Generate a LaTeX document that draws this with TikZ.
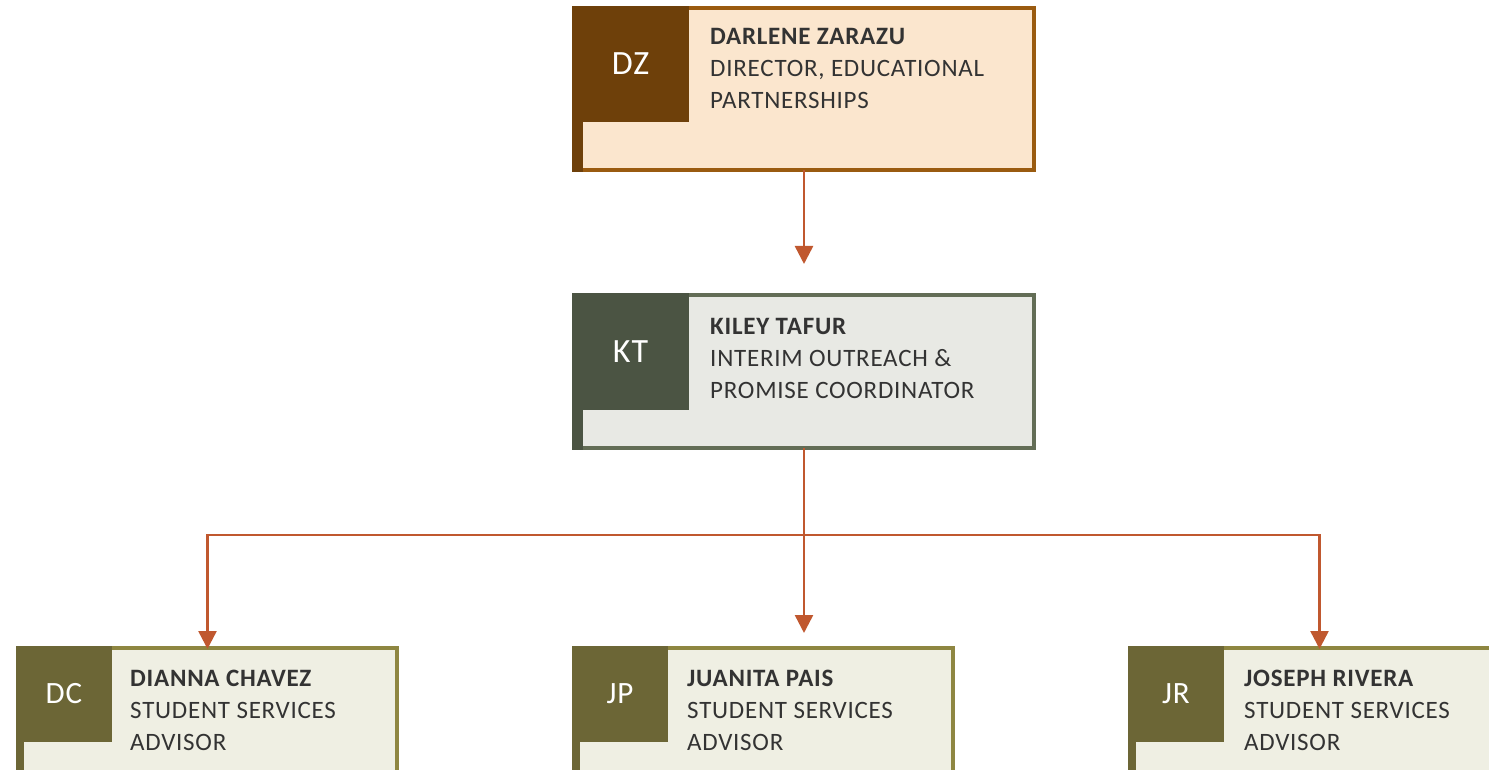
\documentclass[tikz,border=0pt]{standalone}
\usepackage{fontspec}
\setmainfont{Carlito}[LetterSpace=3]
\usetikzlibrary{arrows.meta}
\definecolor{arrc}{HTML}{C0582F}
\definecolor{txt}{HTML}{333333}
\definecolor{topfill}{HTML}{FBE6CE}
\definecolor{topdraw}{HTML}{9A5B10}
\definecolor{topsq}{HTML}{6E400A}
\definecolor{midfill}{HTML}{E8E9E4}
\definecolor{middraw}{HTML}{636D56}
\definecolor{midsq}{HTML}{4B5443}
\definecolor{botfill}{HTML}{EFEFE3}
\definecolor{botdraw}{HTML}{8E8641}
\definecolor{botsq}{HTML}{6C6636}
\tikzset{
  box/.style={rectangle, line width=4pt, inner sep=0pt, outer sep=0pt},
  sqbox/.style={rectangle, inner sep=0pt, outer sep=0pt, anchor=north west, text=white},
  nm/.style={anchor=base west, inner sep=0pt, text=txt, font=\fontsize{25}{30}\selectfont\bfseries},
  ln/.style={anchor=base west, inner sep=0pt, text=txt, font=\fontsize{25}{30}\selectfont},
  arr/.style={draw=arrc, line width=2.5pt, -{Triangle[length=18pt,width=18pt]}},
}
\begin{document}
\begin{tikzpicture}[x=1pt,y=1pt]
\useasboundingbox (0,0) rectangle (1489,-770);
\begin{scope}
\clip (0,0) rectangle (1489,-770);
% top box
\node[box, draw=topdraw, fill=topfill, minimum width=460pt, minimum height=162pt] (dz) at (804,-89) {};
\fill[topsq] (572,-6) rectangle (583,-172);
\node[sqbox, fill=topsq, minimum width=117pt, minimum height=116pt, font=\fontsize{34}{40}\selectfont] (dzi) at (572,-6) {DZ};
\node[nm] (dzn) at (710,-45) {DARLENE ZARAZU};
\node[ln] (dzt1) at (710,-77) {DIRECTOR, EDUCATIONAL};
\node[ln] (dzt2) at (710,-109) {PARTNERSHIPS};
% middle box
\node[box, draw=middraw, fill=midfill, minimum width=460pt, minimum height=153pt] (kt) at (804,-371.5) {};
\fill[midsq] (572,-293) rectangle (583,-450);
\node[sqbox, fill=midsq, minimum width=117pt, minimum height=117pt, font=\fontsize{34}{40}\selectfont] (kti) at (572,-293) {KT};
\node[nm] (ktn) at (710,-334) {KILEY TAFUR};
\node[ln] (ktt1) at (710,-366) {INTERIM OUTREACH \&};
\node[ln] (ktt2) at (710,-398) {PROMISE COORDINATOR};
% bottom boxes
\node[box, draw=botdraw, fill=botfill, minimum width=379pt, minimum height=130pt] (dc) at (207.5,-713) {};
\fill[botsq] (16,-646) rectangle (24,-780);
\node[sqbox, fill=botsq, minimum width=96pt, minimum height=96pt, font=\fontsize{31}{36}\selectfont] (dci) at (16,-646) {DC};
\node[nm] (dcn) at (130,-686) {DIANNA CHAVEZ};
\node[ln] (dct1) at (130,-718) {STUDENT SERVICES};
\node[ln] (dct2) at (130,-750) {ADVISOR};
\node[box, draw=botdraw, fill=botfill, minimum width=379pt, minimum height=130pt] (jp) at (763.5,-713) {};
\fill[botsq] (572,-646) rectangle (580,-780);
\node[sqbox, fill=botsq, minimum width=96pt, minimum height=96pt, font=\fontsize{31}{36}\selectfont] (jpi) at (572,-646) {JP};
\node[nm] (jpn) at (687,-686) {JUANITA PAIS};
\node[ln] (jpt1) at (687,-718) {STUDENT SERVICES};
\node[ln] (jpt2) at (687,-750) {ADVISOR};
\node[box, draw=botdraw, fill=botfill, minimum width=379pt, minimum height=130pt] (jr) at (1319.5,-713) {};
\fill[botsq] (1128,-646) rectangle (1136,-780);
\node[sqbox, fill=botsq, minimum width=96pt, minimum height=96pt, font=\fontsize{31}{36}\selectfont] (jri) at (1128,-646) {JR};
\node[nm] (jrn) at (1244,-686) {JOSEPH RIVERA};
\node[ln] (jrt1) at (1244,-718) {STUDENT SERVICES};
\node[ln] (jrt2) at (1244,-750) {ADVISOR};
% connectors
\coordinate (bus) at (804,-535);
\draw[arr, shorten >=31pt] (dz.south) -- (kt.north);
\draw[arr, shorten >=15pt] (kt.south) -- (kt.south |- jp.north);
\draw[arr, shorten >=-1pt] (bus) -| (dc.north);
\draw[arr, shorten >=-1pt] (bus) -| (jr.north);
\end{scope}
\end{tikzpicture}
\end{document}
